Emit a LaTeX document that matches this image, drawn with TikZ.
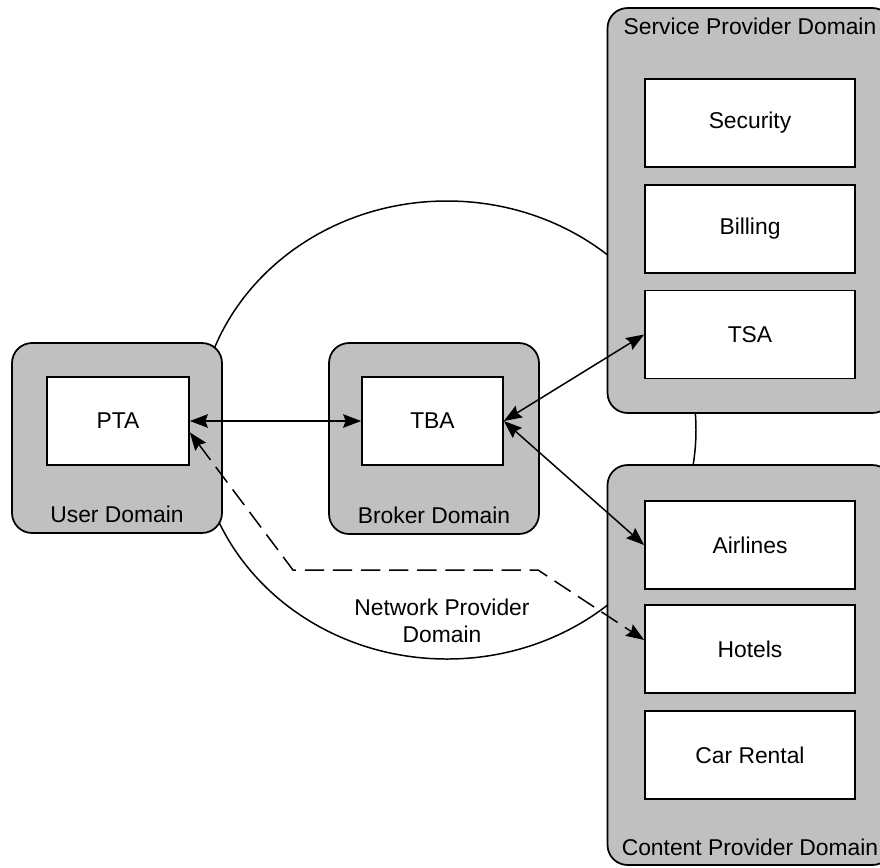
\documentclass[tikz,border=0pt]{standalone}
\usepackage{fontspec}
\setmainfont{Liberation Sans}
\usetikzlibrary{positioning,arrows.meta}
\definecolor{domaingray}{RGB}{192,192,192}

\begin{document}
\begin{tikzpicture}[x=0.02cm, y=-0.02cm,
    font=\fontsize{13}{15}\selectfont,
    domainbox/.style={draw=black, line width=1pt, fill=domaingray, rounded corners=0.4cm, inner sep=0pt, minimum width=4.2cm},
    agentbox/.style={draw=black, line width=1pt, fill=white, minimum width=4.2cm, minimum height=1.76cm, inner sep=0pt},
    dlabel/.style={inner sep=0pt},
    msg/.style={line width=0.85pt, {Stealth[length=0.36cm,width=0.27cm,inset=0.05cm]}-{Stealth[length=0.36cm,width=0.27cm,inset=0.05cm]}}
]
    \useasboundingbox (0,0) rectangle (880,867);

    % Network provider domain (behind everything)
    \draw[line width=0.85pt] (447,430) ellipse [x radius=249, y radius=229];
    \node[align=center, inner sep=0pt] (netlabel) at (442,621) {Network Provider\\Domain};

    % User domain
    \node[domainbox, minimum height=3.8cm] (user) at (117,438) {};
    \node[dlabel] (userlabel) at ([yshift=0.39cm]user.south) {User Domain};
    \node[agentbox, minimum width=2.84cm] (pta) at (118,421) {PTA};

    % Broker domain
    \node[domainbox, minimum height=3.82cm] (broker) at (434,438.5) {};
    \node[dlabel] (brokerlabel) at ([yshift=0.39cm]broker.south) {Broker Domain};
    \node[agentbox, minimum width=2.82cm] (tba) at (432.5,421) {TBA};

    % Service provider domain
    \node[domainbox, minimum width=5.7cm, minimum height=8.1cm] (service) at (750,210.5) {};
    \node[dlabel] (servicelabel) at ([yshift=-0.39cm]service.north) {Service Provider Domain};
    \node[agentbox] (security) at (750,123) {Security};
    \node[agentbox, below=0.32cm of security] (billing) {Billing};
    \node[agentbox, below=0.32cm of billing] (tsa) {TSA};

    % Content provider domain
    \node[domainbox, minimum width=5.7cm, minimum height=8cm] (content) at (750,665) {};
    \node[dlabel] (contentlabel) at ([yshift=0.37cm]content.south) {Content Provider Domain};
    \node[agentbox] (airlines) at (750,545) {Airlines};
    \node[agentbox, below=0.29cm of airlines] (hotels) {Hotels};
    \node[agentbox, below=0.32cm of hotels] (carrental) {Car Rental};

    % Messages
    \draw[msg] (pta.east) -- (tba.west);
    \draw[msg] (tba.east) -- (tsa.west);
    \draw[msg] (tba.east) -- (airlines.west);

    % Path through the network
    \coordinate (d1) at (293,570);
    \coordinate (d2) at (538,570);
    \draw[msg, dash pattern=on 11pt off 5pt] (pta.-9) -- (d1) -- (d2) -- (hotels.175);
\end{tikzpicture}
\end{document}
